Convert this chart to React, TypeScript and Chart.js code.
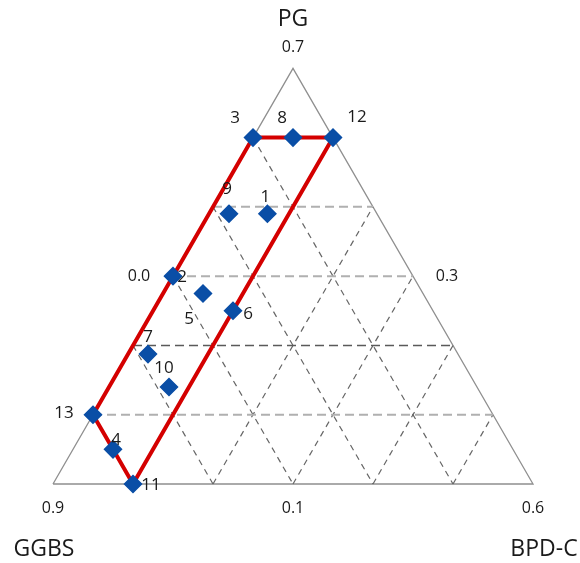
import React, { useEffect, useRef } from 'react';
import { Chart, registerables } from 'chart.js';

Chart.register(...registerables);

// ---- Data (mixture compositions, fractions) ----
const mixIds = ['1', '2', '3', '4', '5', '6', '7', '8', '9', '10', '11', '12', '13'];
const pgValues = [0.49, 0.40, 0.60, 0.15, 0.375, 0.35, 0.2875, 0.60, 0.49, 0.24, 0.10, 0.60, 0.20];
const bpdcValues = [0.073, 0.0, 0.0, 0.05, 0.05, 0.10, 0.025, 0.05, 0.025, 0.075, 0.10, 0.10, 0.0];
const ggbsValues = [0.437, 0.60, 0.40, 0.80, 0.575, 0.55, 0.6875, 0.35, 0.485, 0.685, 0.80, 0.30, 0.80];

// Constrained region boundary (by mix id)
const boundaryIds = ['3', '8', '12', '6', '11', '4', '13', '2', '3'];

// Component bounds of the simplex region
const pgMin = 0.1;
const ggbsMin = 0.3;
const bpdcMin = 0.0;
const componentRange = 0.6;

// Axis texts
const componentNames = ['PG', 'GGBS', 'BPD-C'];
const vertexTicks = ['0.7', '0.9', '0.6'];
const edgeTicks = ['0.0', '0.3', '0.1']; // left edge (BPD-C), right edge (GGBS), bottom edge (PG)

// Grid levels
const gridPG = [0.2, 0.3, 0.4, 0.5, 0.6];
const gridGGBS = [0.4, 0.5, 0.6, 0.7, 0.8];
const gridBPDC = [0.1, 0.2, 0.3, 0.4, 0.5];

const S = Math.sqrt(3) / 2;
const fromPseudo = (p: number, c: number) => ({ x: c + p / 2, y: p * S });
const toXY = (pg: number, bpdc: number) =>
  fromPseudo((pg - pgMin) / componentRange, (bpdc - bpdcMin) / componentRange);

// label offsets in px (styling)
const labelOffsets: Record<string, [number, number]> = {
  '1': [-2, -17],
  '2': [9, 1],
  '3': [-18, -19],
  '4': [3, -9],
  '5': [-14, 26],
  '6': [15, 3],
  '7': [0, -17],
  '8': [-11, -19],
  '9': [-2, -25],
  '10': [-5, -19],
  '11': [18, 1],
  '12': [24, -20],
  '13': [-29, -2],
};

const FONT = '"Open Sans", "Noto Sans", sans-serif';

export default function App() {
  const ref = useRef<HTMLCanvasElement | null>(null);

  useEffect(() => {
    document.body.style.margin = '0';
    if (!ref.current) return;

    const points = mixIds.map((id, i) => ({ ...toXY(pgValues[i], bpdcValues[i]), id }));
    const byId = (id: string) => points[mixIds.indexOf(id)];

    const datasets: any[] = [];
    // triangle outline
    datasets.push({
      type: 'line',
      order: 4,
      data: [fromPseudo(0, 0), fromPseudo(1, 0), fromPseudo(0, 1), fromPseudo(0, 0)],
      borderColor: '#8f8f8f',
      borderWidth: 1.3,
      pointRadius: 0,
      fill: false,
    });
    const dashColor = '#666666';
    gridPG.forEach((v, i) => {
      const p = (v - pgMin) / componentRange;
      const dark = i === 1;
      datasets.push({
        type: 'line',
        order: 3,
        data: [fromPseudo(p, 0), fromPseudo(p, 1 - p)],
        borderColor: dark ? '#5a5a5a' : '#b0b0b0',
        borderWidth: dark ? 1.5 : 2,
        borderDash: [9, 5],
        pointRadius: 0,
        fill: false,
      });
    });
    gridGGBS.forEach((v) => {
      const g = (v - ggbsMin) / componentRange;
      datasets.push({
        type: 'line',
        order: 3,
        data: [fromPseudo(1 - g, 0), fromPseudo(0, 1 - g)],
        borderColor: dashColor,
        borderWidth: 1.2,
        borderDash: [6, 5],
        pointRadius: 0,
        fill: false,
      });
    });
    gridBPDC.forEach((v) => {
      const c = (v - bpdcMin) / componentRange;
      datasets.push({
        type: 'line',
        order: 3,
        data: [fromPseudo(0, c), fromPseudo(1 - c, c)],
        borderColor: dashColor,
        borderWidth: 1.2,
        borderDash: [6, 5],
        pointRadius: 0,
        fill: false,
      });
    });
    // boundary
    datasets.push({
      type: 'line',
      order: 2,
      data: boundaryIds.map((id) => ({ x: byId(id).x, y: byId(id).y })),
      borderColor: '#d40000',
      backgroundColor: '#d40000',
      borderWidth: 4,
      pointRadius: 0,
      fill: false,
    });
    // mixes
    datasets.push({
      type: 'scatter',
      order: 1,
      data: points.map((p) => ({ x: p.x, y: p.y })),
      backgroundColor: '#0a4ea6',
      borderColor: '#0a4ea6',
      borderWidth: 1.5,
      pointStyle: 'rectRot',
      pointRadius: 8.5,
    });

    const textPlugin = {
      id: 'ternaryText',
      afterDatasetsDraw(chart: any) {
        const { ctx, scales } = chart;
        const px = (pt: { x: number; y: number }) => ({
          x: scales.x.getPixelForValue(pt.x),
          y: scales.y.getPixelForValue(pt.y),
        });
        ctx.save();
        ctx.textAlign = 'center';
        ctx.textBaseline = 'middle';
        ctx.fillStyle = '#1a1a1a';
        // point labels
        ctx.font = `17px ${FONT}`;
        points.forEach((pt) => {
          const q = px(pt);
          const o = labelOffsets[pt.id] || [0, -16];
          ctx.fillText(pt.id, q.x + o[0], q.y + o[1]);
        });
        // vertex ticks and names
        const top = px(fromPseudo(1, 0));
        const left = px(fromPseudo(0, 0));
        const right = px(fromPseudo(0, 1));
        ctx.font = `16px ${FONT}`;
        ctx.fillText(vertexTicks[0], top.x, top.y - 21);
        ctx.fillText(vertexTicks[1], left.x, left.y + 24);
        ctx.fillText(vertexTicks[2], right.x, right.y + 24);
        const lm = px(fromPseudo(0.5, 0));
        const rm = px(fromPseudo(0.5, 0.5));
        const bm = px(fromPseudo(0, 0.5));
        ctx.fillText(edgeTicks[0], lm.x - 34, lm.y);
        ctx.fillText(edgeTicks[1], rm.x + 34, rm.y);
        ctx.fillText(edgeTicks[2], bm.x, bm.y + 24);
        ctx.font = `23px ${FONT}`;
        ctx.fillText(componentNames[0], top.x, top.y - 49);
        ctx.fillText(componentNames[1], left.x - 9, left.y + 65);
        ctx.fillText(componentNames[2], right.x + 11, right.y + 65);
        ctx.restore();
      },
    };

    const chart = new Chart(ref.current, {
      type: 'scatter',
      data: { datasets },
      options: {
        animation: false,
        responsive: true,
        maintainAspectRatio: false,
        layout: { padding: 0, autoPadding: false },
        plugins: { legend: { display: false }, tooltip: { enabled: false } },
        elements: { line: { tension: 0 } },
        scales: {
          x: { type: 'linear', display: false, min: (0 - 53) / 480, max: (580 - 53) / 480 },
          y: { type: 'linear', display: false, min: (484 - 563) / 480, max: (484 - 0) / 480 },
        },
      },
      plugins: [textPlugin],
    } as any);
    return () => chart.destroy();
  }, []);

  return (
    <div style={{ width: 580, height: 563, position: 'relative' }}>
      <canvas ref={ref} />
    </div>
  );
}
